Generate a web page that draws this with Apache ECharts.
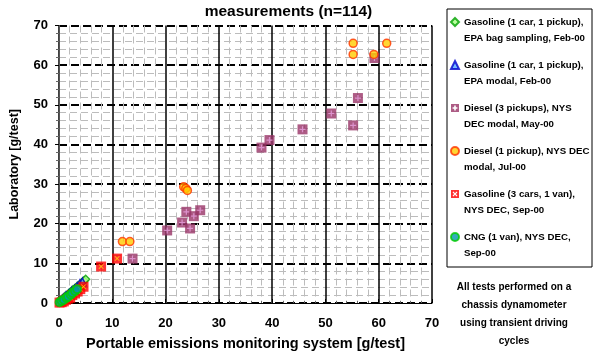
<!DOCTYPE html>
<html><head><meta charset="utf-8">
<script src="https://cdn.jsdelivr.net/npm/echarts@6/dist/echarts.min.js"></script>
<style>html,body{margin:0;padding:0;background:#fff}#c{width:596px;height:356px}</style>
</head><body><div id="c"></div>
<script>
const titleText = 'measurements (n=114)';
const xAxisName = 'Portable emissions monitoring system [g/test]';
const yAxisName = 'Laboratory [g/test]';
const seriesNames = [
  'Gasoline (1 car, 1 pickup),\nEPA bag sampling, Feb-00',
  'Gasoline (1 car, 1 pickup),\nEPA modal, Feb-00',
  'Diesel (3 pickups), NYS\nDEC modal, May-00',
  'Diesel (1 pickup), NYS DEC\nmodal, Jul-00',
  'Gasoline (3 cars, 1 van),\nNYS DEC, Sep-00',
  'CNG (1 van), NYS DEC,\nSep-00'
];
const footnoteLines = ['All tests performed on a', 'chassis dynamometer', 'using transient driving', 'cycles'];

const gasEpaBag = [[0.2,0.4],[0.6,1.0],[1.1,1.6],[1.6,2.1],[2.1,2.7],[2.6,3.3],[3.1,3.8],[3.6,4.4],[4.2,5.0],[4.7,5.6],[5.0,6.0]];
const gasEpaModal = [[0.3,0.5],[0.8,1.2],[1.3,1.8],[1.9,2.4],[2.4,3.0],[2.9,3.5],[3.4,4.1],[3.9,4.8],[4.4,5.3]];
const diesel3 = [[59.2,61.8],[56.1,51.7],[51.1,47.8],[55.2,44.8],[45.7,43.8],[39.5,41.1],[38.0,39.2],[26.5,23.4],[23.9,23.0],[25.3,21.9],[23.1,20.3],[24.6,18.8],[20.3,18.3],[13.8,11.2]];
const diesel1 = [[55.2,65.5],[61.5,65.5],[55.2,62.7],[59.1,62.7],[23.4,29.3],[23.8,28.9],[24.1,28.4],[11.9,15.5],[13.3,15.5]];
const gas3 = [[0.1,0.1],[0.5,0.2],[0.9,0.4],[1.3,0.8],[1.7,1.1],[2.1,1.3],[2.5,2.0],[3.0,2.4],[3.5,2.9],[4.0,3.5],[4.6,4.1],[7.9,9.2],[10.9,11.2]];
const cng = [[0.1,0.2],[0.5,0.5],[0.9,0.8],[1.4,1.3],[1.7,1.6],[2.2,2.1],[2.5,2.5],[3.0,3.0],[3.4,3.5]];

const FONT = 'Liberation Sans, Arial, sans-serif';
const plusPath = 'path://M4,0h2v4h4v2h-4v4h-2v-4h-4v-2h4z';
const xPath = 'path://M0,1L1,0L5,4L9,0L10,1L6,5L10,9L9,10L5,6L1,10L0,9L4,5Z';
const sqPlusIcon = 'path://M0,0H10V10H0Z M4,2L4,4L2,4L2,6L4,6L4,8L6,8L6,6L8,6L8,4L6,4L6,2Z';
const sqXIcon = 'path://M0,0H10V10H0Z M2,3L4,5L2,7L3,8L5,6L7,8L8,7L6,5L8,3L7,2L5,4L3,2Z';

const chart = echarts.init(document.getElementById('c'), null, {renderer: 'canvas'});
const gridLeft = 55.5, gridRight = 164, gridTop = 25.5, gridBottom = 52;

chart.setOption({
  animation: false,
  textStyle: {fontFamily: FONT},
  grid: {left: gridLeft, right: gridRight, top: gridTop, bottom: gridBottom},
  title: {text: titleText, left: 283.5, textAlign: 'center', top: -1,
    textStyle: {fontFamily: FONT, fontSize: 15.5, fontWeight: 'bold', color: '#000'}},
  xAxis: {
    type: 'value', min: 0, max: 70, interval: 10,
    name: xAxisName, nameLocation: 'middle', nameGap: 33,
    nameTextStyle: {fontFamily: FONT, fontSize: 14.5, fontWeight: 'bold', color: '#000'},
    axisLine: {show: true, lineStyle: {color: '#000', width: 1}},
    axisTick: {show: true, inside: true, length: 4, lineStyle: {color: '#000'}},
    minorTick: {show: true, splitNumber: 5, length: 2, lineStyle: {color: '#666'}},
    axisLabel: {fontFamily: FONT, fontSize: 13, fontWeight: 'bold', color: '#000', margin: 14},
    splitLine: {show: true, lineStyle: {color: '#000', width: 1.5, type: 'solid'}},
    minorSplitLine: {show: true, lineStyle: {color: '#bcbcbc', width: 1, type: [7, 4]}}
  },
  yAxis: {
    type: 'value', min: 0, max: 70, interval: 10,
    name: yAxisName, nameLocation: 'middle', nameGap: 38, nameRotate: 90,
    nameTextStyle: {fontFamily: FONT, fontSize: 12.5, fontWeight: 'bold', color: '#000'},
    axisLine: {show: true, lineStyle: {color: '#555', width: 1}},
    axisTick: {show: true, inside: false, length: 4, lineStyle: {color: '#000'}},
    minorTick: {show: true, splitNumber: 5, length: 3, lineStyle: {color: '#666'}},
    axisLabel: {fontFamily: FONT, fontSize: 13, fontWeight: 'bold', color: '#000', margin: 11},
    splitLine: {show: true, lineStyle: {color: '#000', width: 2, type: [8, 4]}},
    minorSplitLine: {show: true, lineStyle: {color: '#bcbcbc', width: 1, type: [7, 4]}}
  },
  legend: {
    orient: 'vertical', left: 450, top: -2, padding: 0,
    itemWidth: 8, itemHeight: 8, itemGap: -5,
    data: [
      {name: seriesNames[0]},
      {name: seriesNames[1]},
      {name: seriesNames[2], icon: sqPlusIcon},
      {name: seriesNames[3]},
      {name: seriesNames[4], icon: sqXIcon},
      {name: seriesNames[5]}
    ],
    formatter: name => ' \n' + name,
    textStyle: {fontFamily: FONT, fontSize: 9.7, fontWeight: 'bold', color: '#000', lineHeight: 16},
    selectedMode: false
  },
  graphic: [
    {type: 'rect', shape: {x: 447, y: 9, width: 145, height: 258},
      style: {fill: 'none', stroke: '#000', lineWidth: 1}, silent: true},
    ...footnoteLines.map((t, i) => ({
      type: 'text', x: 514, y: 287 + i * 18,
      style: {text: t, textAlign: 'center', textVerticalAlign: 'middle',
        font: 'bold 10px ' + FONT, fill: '#000'}
    }))
  ],
  series: [
    {name: seriesNames[0], type: 'scatter', data: gasEpaBag, symbol: 'diamond', symbolSize: 8,
      itemStyle: {color: '#aaff88', borderColor: '#00a000', borderWidth: 1.5}},
    {name: seriesNames[1], type: 'scatter', data: gasEpaModal, symbol: 'triangle', symbolSize: 8,
      itemStyle: {color: '#55aaff', borderColor: '#0000cc', borderWidth: 1.5}},
    {name: seriesNames[2], type: 'scatter', data: diesel3, symbol: 'rect', symbolSize: 10,
      itemStyle: {color: '#993366'}},
    {name: '_diesel3plus', type: 'scatter', data: diesel3, symbol: plusPath, symbolSize: 6,
      itemStyle: {color: '#e8a0e0'}, silent: true},
    {name: seriesNames[3], type: 'scatter', data: diesel1, symbol: 'circle', symbolSize: 8,
      itemStyle: {color: '#ffcc00', borderColor: '#ff3300', borderWidth: 1.5}},
    {name: seriesNames[4], type: 'scatter', data: gas3, symbol: 'rect', symbolSize: 10,
      itemStyle: {color: '#ff0000'}},
    {name: '_gas3x', type: 'scatter', data: gas3, symbol: xPath, symbolSize: 5,
      itemStyle: {color: '#ffff00'}, silent: true},
    {name: seriesNames[5], type: 'scatter', data: cng, symbol: 'circle', symbolSize: 8,
      itemStyle: {color: '#0099aa', borderColor: '#00cc00', borderWidth: 2}}
  ]
});
</script>
</body></html>
